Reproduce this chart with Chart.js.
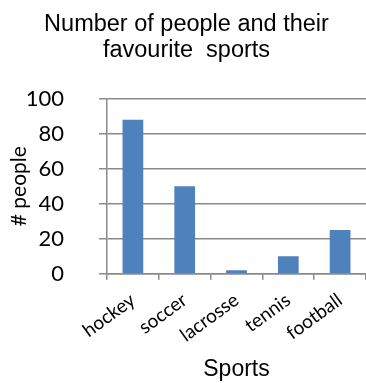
<!DOCTYPE html>
<html>
<head>
<meta charset="utf-8">
<script src="https://cdn.jsdelivr.net/npm/chart.js@4"></script>
<style>
  html, body { margin: 0; padding: 0; background: #fff; }
  #wrap { width: 366px; height: 383px; }
</style>
</head>
<body>
<div id="wrap"><canvas id="sportsChart"></canvas></div>
<script>
// chart data
const sports = ['hockey', 'soccer', 'lacrosse', 'tennis', 'football'];
const people = [88, 50, 2, 10, 25];
const titleLines = ['Number of people and their', 'favourite  sports'];

const gridGray = '#8a8a8a';

const ctx = document.getElementById('sportsChart').getContext('2d');
const sportsChart = new Chart(ctx, {
    type: 'bar',
    data: {
        labels: sports,
        datasets: [{
            label: '# people',
            data: people,
            backgroundColor: '#4f81bd',
            borderWidth: 0,
            categoryPercentage: 1,
            barPercentage: 0.4
        }]
    },
    options: {
        responsive: true,
        maintainAspectRatio: false,
        animation: false,
        layout: { padding: { left: 7, right: 0, top: 12, bottom: 0 } },
        plugins: {
            legend: { display: false },
            tooltip: { enabled: false },
            title: {
                display: true,
                text: titleLines,
                color: '#000',
                font: { family: 'Liberation Sans', size: 23.5, weight: 'normal', lineHeight: 1.1 },
                padding: { top: 0, bottom: 35 }
            }
        },
        scales: {
            x: {
                // rotated labels may hang left of the axis, like the original
                afterFit: (scale) => { scale.paddingLeft = 0; },
                grid: { drawOnChartArea: false, drawTicks: true, tickLength: 6, color: gridGray, lineWidth: 1.5 },
                border: { color: gridGray, width: 1.5 },
                ticks: {
                    color: '#000',
                    minRotation: 36,
                    maxRotation: 36,
                    padding: 9,
                    font: { family: 'Lato', size: 19 }
                },
                title: {
                    display: true,
                    text: 'Sports',
                    color: '#000',
                    font: { family: 'Liberation Sans', size: 23 },
                    padding: { top: 0, bottom: 0 }
                }
            },
            y: {
                min: 0,
                max: 100,
                afterFit: (scale) => { scale.width = 100; },
                grid: { color: gridGray, lineWidth: 1.5, tickLength: 8 },
                border: { color: gridGray, width: 1.5 },
                ticks: {
                    stepSize: 20,
                    color: '#000',
                    padding: 35,
                    font: { family: 'Lato', size: 22 }
                },
                title: {
                    display: true,
                    text: '# people',
                    color: '#000',
                    font: { family: 'Lato', size: 21 },
                    padding: { top: 0, bottom: 6 }
                }
            }
        }
    }
});
</script>
</body>
</html>
